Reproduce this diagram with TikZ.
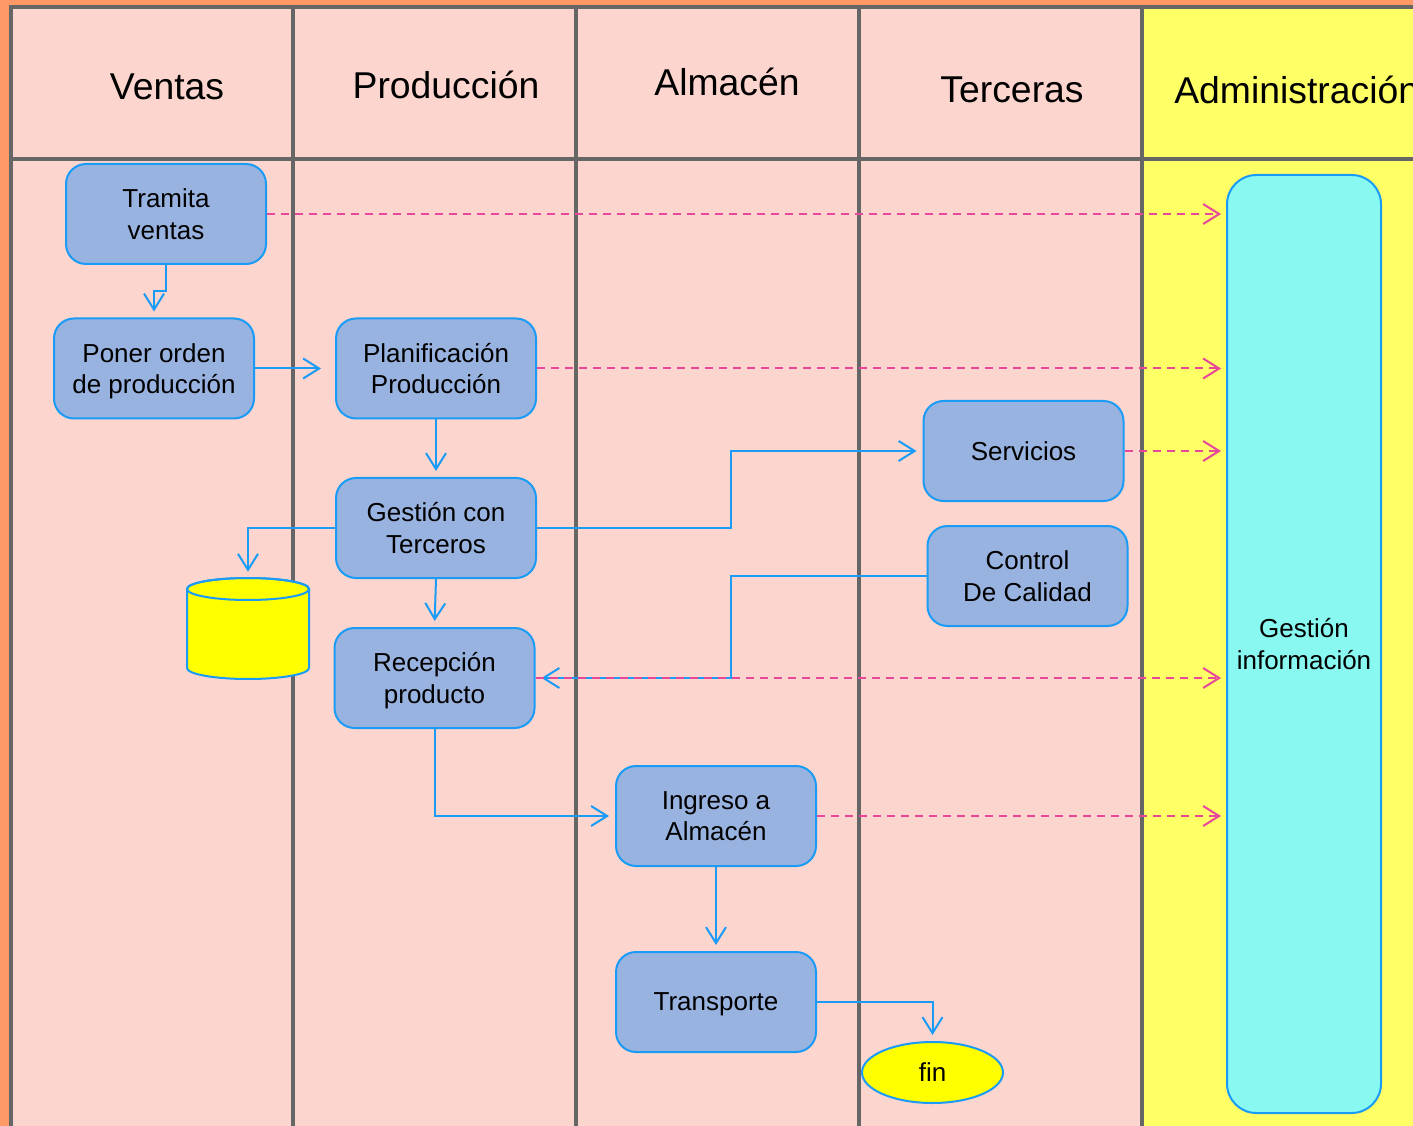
\documentclass[tikz,border=0pt]{standalone}
\usepackage{fontspec}
\setmainfont{Liberation Sans}
\usetikzlibrary{arrows.meta,shapes.geometric,calc}
\definecolor{bgorange}{HTML}{FF9966}
\definecolor{lanepink}{HTML}{FCD5CE}
\definecolor{laneyellow}{HTML}{FFFF66}
\definecolor{gridgray}{HTML}{666666}
\definecolor{boxblue}{HTML}{99B3E1}
\definecolor{lineblue}{HTML}{1A9BF5}
\definecolor{dashpink}{HTML}{E8489A}
\definecolor{infocyan}{HTML}{88F8F0}
\definecolor{cylyellow}{HTML}{FFFF00}
\begin{document}
\begin{tikzpicture}[x=0.75pt,y=-0.75pt,
  lanegrid/.style={draw=gridgray,line width=2.6pt},
  hdr/.style={font=\fontsize{28}{33}\selectfont,inner sep=0pt},
  proc/.style={draw=lineblue,fill=boxblue,line width=1.5pt,rounded corners=15pt,
    minimum width=150pt,minimum height=75pt,align=center,inner sep=0pt,
    text depth=0pt,font=\fontsize{19.5}{23.5}\selectfont},
  flow/.style={draw=lineblue,line width=1.5pt,
    -{Straight Barb[length=12pt,width=15pt]},shorten >=4.5pt},
  dashflow/.style={draw=dashpink,line width=1.5pt,dash pattern=on 6pt off 4.5pt,
    -{Straight Barb[length=12pt,width=15pt]},shorten >=3.75pt}]
\useasboundingbox (0,0) rectangle (1413,1126);
\clip (0,0) rectangle (1413,1126);
% background and lanes
\fill[bgorange] (0,0) rectangle (1413,1126);
\fill[lanepink] (11,7) rectangle (1142,1130);
\fill[laneyellow] (1142,7) rectangle (1420,1130);
\draw[lanegrid] (11,1130) -- (11,7) -- (1420,7);
\foreach \xx in {293,576,859,1142} \draw[lanegrid] (\xx,7) -- (\xx,1130);
\draw[lanegrid] (11,159) -- (1420,159);
% headers
\node[hdr] (hv) at (167,87) {Ventas};
\node[hdr] (hp) at (446,85) {Producción};
\node[hdr] (ha) at (727,82) {Almacén};
\node[hdr] (ht) at (1012,90) {Terceras};
\node[hdr,anchor=west] (had) at (1174,90) {Administración};
% process nodes
\node[proc] (tv) at (166,214) {Tramita\\ventas};
\node[proc] (po) at (154,368.5) {Poner orden\\de producción};
\node[proc] (pl) at (436,368.5) {Planificación\\Producción};
\node[proc] (gt) at (436,528) {Gestión con\\Terceros};
\node[proc] (rp) at (434.5,678) {Recepción\\producto};
\node[proc] (ia) at (716,816) {Ingreso a\\Almacén};
\node[proc] (tr) at (716,1002) {Transporte};
\node[proc] (sv) at (1023.5,451) {Servicios};
\node[proc] (cc) at (1027.5,576) {Control\\De Calidad};
\node[proc,fill=infocyan,minimum width=115.5pt,minimum height=703.5pt,rounded corners=22pt] (gi) at (1304,644) {Gestión\\información};
\node[ellipse,draw=lineblue,fill=cylyellow,line width=1.5pt,minimum width=105.75pt,minimum height=45.75pt,inner sep=0pt,text depth=0pt,font=\fontsize{19.5}{23.5}\selectfont] (fin) at (932.5,1072.5) {fin};
% cylinder (database)
\node[minimum width=91.5pt,minimum height=75.75pt,inner sep=0pt] (cyl) at (248,628.5) {};
\draw[draw=lineblue,fill=cylyellow,line width=1.5pt]
  (187,589) -- (187,668) arc[start angle=180,end angle=0,x radius=61,y radius=11]
  -- (309,589) arc[start angle=0,end angle=-180,x radius=61,y radius=11] -- cycle;
\draw[draw=lineblue,line width=1.5pt] (248,589) ellipse[x radius=61,y radius=11];
% solid connectors
\draw[flow] (tv.south) -- ++(0,26) -| (po.north);
\draw[flow,shorten >=10.5pt] (po.east) -- (pl.west);
\draw[flow] (pl.south) -- (gt.north);
\draw[flow] (gt.south) -- (rp.north);
\draw[flow] (gt.west) -| (cyl.north);
\draw[flow] (gt.east) -- ++(194,0) |- (sv.west);
\draw[flow] (cc.west) -- ++(-196,0) |- (rp.east);
\draw[flow] (rp.south) |- (ia.west);
\draw[flow] (ia.south) -- (tr.north);
\draw[flow] (tr.east) -| (fin.north);
% dashed information flows
\draw[dashflow] (tv.east) -- (tv.east -| gi.west);
\draw[dashflow] (pl.east) -- (pl.east -| gi.west);
\draw[dashflow] (sv.east) -- (sv.east -| gi.west);
\draw[dashflow] (rp.east) -- (rp.east -| gi.west);
\draw[dashflow] (ia.east) -- (ia.east -| gi.west);
\end{tikzpicture}
\end{document}
